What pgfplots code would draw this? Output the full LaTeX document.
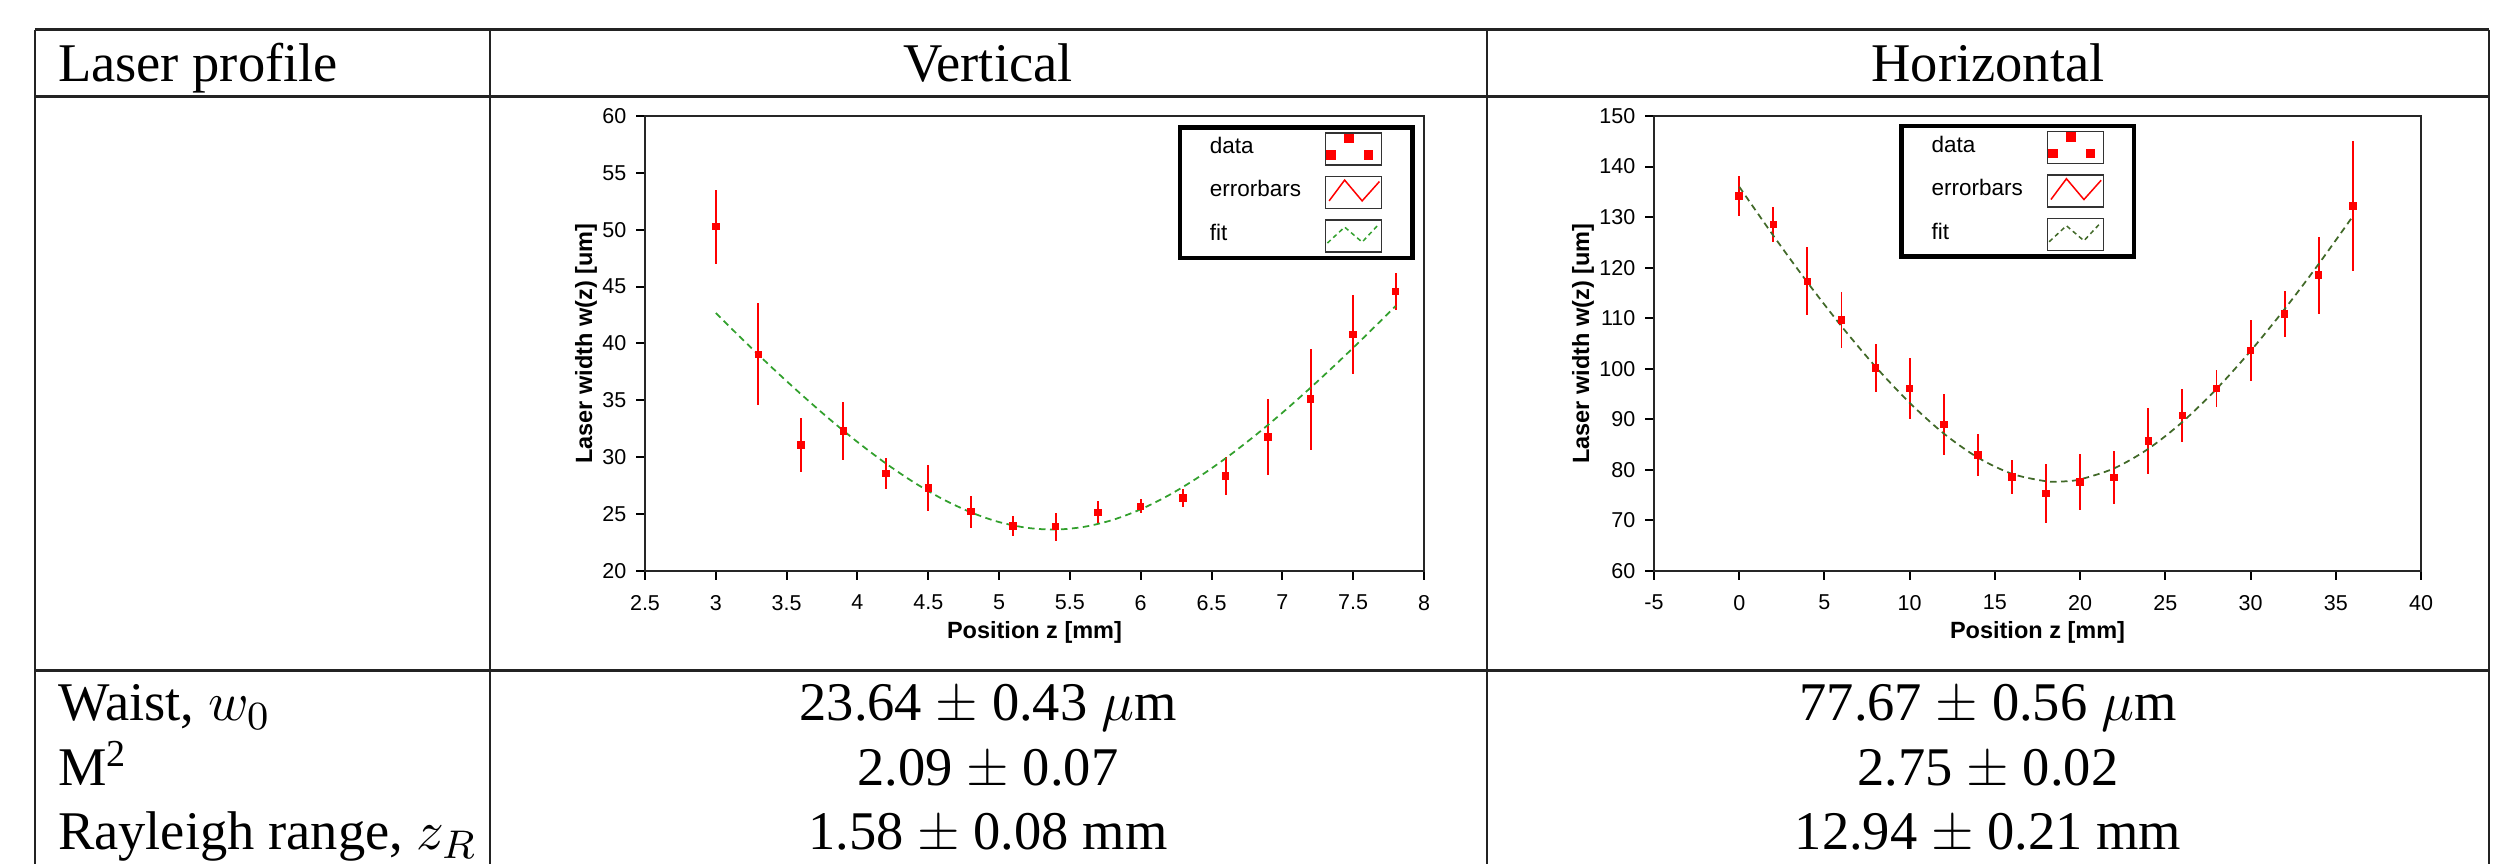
\documentclass[border=0pt]{standalone}
\usepackage{pgfplots}
\pgfplotsset{compat=1.18}
\usepackage{fontspec}
\setmainfont{Liberation Serif}
\newfontfamily\plotfont{Liberation Sans}
\definecolor{fitgreenA}{RGB}{50,160,45}
\definecolor{fitgreenB}{RGB}{65,105,40}
\definecolor{rule}{RGB}{35,35,35}
\newcommand{\tabfont}{\fontsize{10.9}{13}\selectfont}
\newcommand{\tickfont}{\plotfont\fontsize{4.3}{5}\selectfont}
\newcommand{\labfont}{\plotfont\bfseries\fontsize{4.7}{5}\selectfont}
\pgfplotsset{
  laserax/.style={
    scale only axis, anchor=south west,
    axis line style={black!85, line width=0.45pt},
    tick align=outside, major tick length=1.8pt,
    tick style={black, line width=0.4pt},
    xtick pos=bottom, ytick pos=left,
    minor tick num=0,
    /pgf/number format/assume math mode=true,
    ticklabel style={font=\tickfont},
    yticklabel style={xshift=1.6pt},
    xticklabel style={yshift=0.5pt},
    xlabel style={font=\labfont, anchor=center},
    ylabel style={font=\labfont, anchor=center},
    xlabel={Position z [mm]},
    ylabel={Laser width w(z) [um]},
    legend cell align=left,
    legend plot pos=right,
    clip=true,
  },
  boxlegend/.style={
    legend style={draw=black, line width=0.9pt, fill=white,
      font=\plotfont\fontsize{4.5}{5}\selectfont,
      inner xsep=6pt, inner ysep=1pt, row sep=2pt, column sep=2pt,
      nodes={inner sep=0pt, text width=21pt, align=left}},
  },
  dataimg/.style={legend image code/.code={
      \draw[black!80, line width=0.3pt, solid] (0pt,-3.2pt) rectangle (11.2pt,3.2pt);
      \draw[draw=none, mark=square*, mark size=0.5pt, red, mark options={solid}] plot coordinates {(4.7pt,2.1pt) (1.1pt,-1.2pt) (8.6pt,-1.2pt)};
  }},
  errimg/.style={legend image code/.code={
      \draw[black!80, line width=0.3pt, solid] (0pt,-3.2pt) rectangle (11.2pt,3.2pt);
      \draw[red, line width=0.3pt, solid] (0.7pt,-1.66pt) -- (3.8pt,2.5pt) -- (7.3pt,-1.66pt) -- (10.75pt,2.2pt);
  }},
  fitimg/.style={legend image code/.code={
      \draw[black!80, line width=0.3pt, solid] (0pt,-3.2pt) rectangle (11.2pt,3.2pt);
      \draw[line width=0.3pt, dash pattern=on 0.9pt off 0.7pt] (0.35pt,-1.4pt) -- (3.8pt,1.8pt) -- (7.3pt,-1.2pt) -- (10.75pt,2.5pt);
  }},
  errplot/.style={errimg, draw=none, mark=none,
    error bars/.cd, y dir=both, y explicit, error mark=none,
    error bar style={draw=red, line width=0.38pt, solid}},
  dataplot/.style={dataimg, only marks, mark=square*, mark size=0.55pt, red},
}
\begin{document}
\begin{tikzpicture}
\useasboundingbox (0,0) rectangle (501pt,172.8pt);
\begin{scope}[x=0.2pt,y=0.2pt]
  % table rules
  \draw[rule, line width=0.6pt] (35,834) -- (2489,834);
  \draw[rule, line width=0.6pt] (35,767) -- (2489,767);
  \draw[rule, line width=0.6pt] (35,193) -- (2489,193);
  \draw[rule, line width=0.45pt] (35,834) -- (35,0);
  \draw[rule, line width=0.45pt] (490,834) -- (490,0);
  \draw[rule, line width=0.45pt] (1487,834) -- (1487,0);
  \draw[rule, line width=0.45pt] (2489,834) -- (2489,0);
  % header
  \node[anchor=base west, inner sep=0pt, font=\tabfont] at (57,782) {Laser profile};
  \node[anchor=base, inner sep=0pt, font=\tabfont] at (988,782) {Vertical};
  \node[anchor=base, inner sep=0pt, font=\tabfont] at (1988,782) {Horizontal};
  % results
  \node[anchor=base west, inner sep=0pt, font=\tabfont] at (57,143) {Waist, $w_0$};
  \node[anchor=base west, inner sep=0pt, font=\tabfont] at (57,78) {M\textsuperscript{2}};
  \node[anchor=base west, inner sep=0pt, font=\tabfont] at (57,14) {Rayleigh range, $z_R$};
  \node[anchor=base, inner sep=0pt, font=\tabfont] at (988,143) {23.64 $\pm$ 0.43 $\mu$m};
  \node[anchor=base, inner sep=0pt, font=\tabfont] at (988,78) {2.09 $\pm$ 0.07};
  \node[anchor=base, inner sep=0pt, font=\tabfont] at (988,14) {1.58 $\pm$ 0.08 mm};
  \node[anchor=base, inner sep=0pt, font=\tabfont] at (1988,143) {77.67 $\pm$ 0.56 $\mu$m};
  \node[anchor=base, inner sep=0pt, font=\tabfont] at (1988,78) {2.75 $\pm$ 0.02};
  \node[anchor=base, inner sep=0pt, font=\tabfont] at (1988,14) {12.94 $\pm$ 0.21 mm};
\end{scope}

% ---------------- Vertical ----------------
\begin{axis}[laserax, boxlegend,
  at={(129pt,58.6pt)}, width=155.8pt, height=91pt,
  xmin=2.5, xmax=8, ymin=20, ymax=60,
  xtick={2.5,3,...,8}, ytick={20,25,...,60},
  xticklabels={2.5,3,3.5,4,4.5,5,5.5,6,6.5,7,7.5,8},
  xlabel style={at={(axis description cs:0.5,-0.134)}},
  ylabel style={at={(axis description cs:-0.0757,0.5)}},
  legend style={at={(0.988,0.98)}, anchor=north east},
]
\addplot[dataplot] coordinates {
(3.0,50.27) (3.3,39.05) (3.6,31.06) (3.9,32.29) (4.2,28.56) (4.5,27.30)
(4.8,25.21) (5.1,23.95) (5.4,23.89) (5.7,25.15) (6.0,25.69) (6.3,26.41)
(6.6,28.37) (6.9,31.78) (7.2,35.10) (7.5,40.79) (7.8,44.58)};
\addlegendentry{data}
\addplot[errplot] coordinates {
(3.0,50.27) +- (0,3.25) (3.3,39.05) +- (0,4.5) (3.6,31.06) +- (0,2.4)
(3.9,32.29) +- (0,2.56) (4.2,28.56) +- (0,1.35) (4.5,27.30) +- (0,2.0)
(4.8,25.21) +- (0,1.4) (5.1,23.95) +- (0,0.9) (5.4,23.89) +- (0,1.25)
(5.7,25.15) +- (0,1.0) (6.0,25.69) +- (0,0.6) (6.3,26.41) +- (0,0.8)
(6.6,28.37) +- (0,1.65) (6.9,31.78) +- (0,3.3) (7.2,35.10) +- (0,4.45)
(7.5,40.79) +- (0,3.5) (7.8,44.58) +- (0,1.6)};
\addlegendentry{errorbars}
\addplot[fitimg, fitgreenA, line width=0.35pt, dash pattern=on 1.3pt off 0.9pt, smooth] coordinates {
(3.0,42.68) (3.2,40.22) (3.4,37.84) (3.6,35.56) (3.8,33.38) (4.0,31.34)
(4.2,29.46) (4.4,27.78) (4.6,26.33) (4.8,25.16) (5.0,24.30) (5.2,23.79)
(5.4,23.64) (5.6,23.88) (5.8,24.48) (6.0,25.42) (6.2,26.67) (6.4,28.18)
(6.6,29.91) (6.8,31.83) (7.0,33.91) (7.2,36.12) (7.4,38.43) (7.6,40.83)
(7.8,43.30)};
\addlegendentry{fit}
\end{axis}

% ---------------- Horizontal ----------------
\begin{axis}[laserax, boxlegend,
  at={(330.8pt,58.6pt)}, width=153.4pt, height=91pt,
  xmin=-5, xmax=40, ymin=60, ymax=150,
  xtick={-5,0,...,40}, ytick={60,70,...,150},
  xticklabels={-5,0,5,10,15,20,25,30,35,40},
  xlabel style={at={(axis description cs:0.5,-0.134)}},
  ylabel style={at={(axis description cs:-0.0926,0.5)}},
  legend style={at={(0.629,0.983)}, anchor=north east},
]
\addplot[dataplot] coordinates {
(0,134.15) (2,128.54) (4,117.31) (6,109.63) (8,100.18) (10,96.13)
(12,88.95) (14,82.98) (16,78.57) (18,75.30) (20,77.65) (22,78.50)
(24,85.71) (26,90.80) (28,96.06) (30,103.66) (32,110.84) (34,118.51) (36,132.16)};
\addlegendentry{data}
\addplot[errplot] coordinates {
(0,134.15) +- (0,3.9) (2,128.54) +- (0,3.5) (4,117.31) +- (0,6.7)
(6,109.63) +- (0,5.5) (8,100.18) +- (0,4.7) (10,96.13) +- (0,6.0)
(12,88.95) +- (0,6.0) (14,82.98) +- (0,4.2) (16,78.57) +- (0,3.3)
(18,75.30) +- (0,5.9) (20,77.65) +- (0,5.5) (22,78.50) +- (0,5.2)
(24,85.71) +- (0,6.6) (26,90.80) +- (0,5.2) (28,96.06) +- (0,3.7)
(30,103.66) +- (0,6.0) (32,110.84) +- (0,4.5) (34,118.51) +- (0,7.6)
(36,132.16) +- (0,12.8)};
\addlegendentry{errorbars}
\addplot[fitimg, fitgreenB, line width=0.35pt, dash pattern=on 1.3pt off 0.9pt, smooth] coordinates {
(0,136.01) (2,126.34) (4,117.10) (6,108.41) (8,100.40) (10,93.26)
(12,87.19) (14,82.43) (16,79.22) (18,77.75) (19,77.71) (20,78.12)
(22,80.31) (24,84.16) (26,89.47) (28,96.00) (30,103.51) (32,111.81)
(34,120.74) (36,130.16)};
\addlegendentry{fit}
\end{axis}
\end{tikzpicture}
\end{document}
